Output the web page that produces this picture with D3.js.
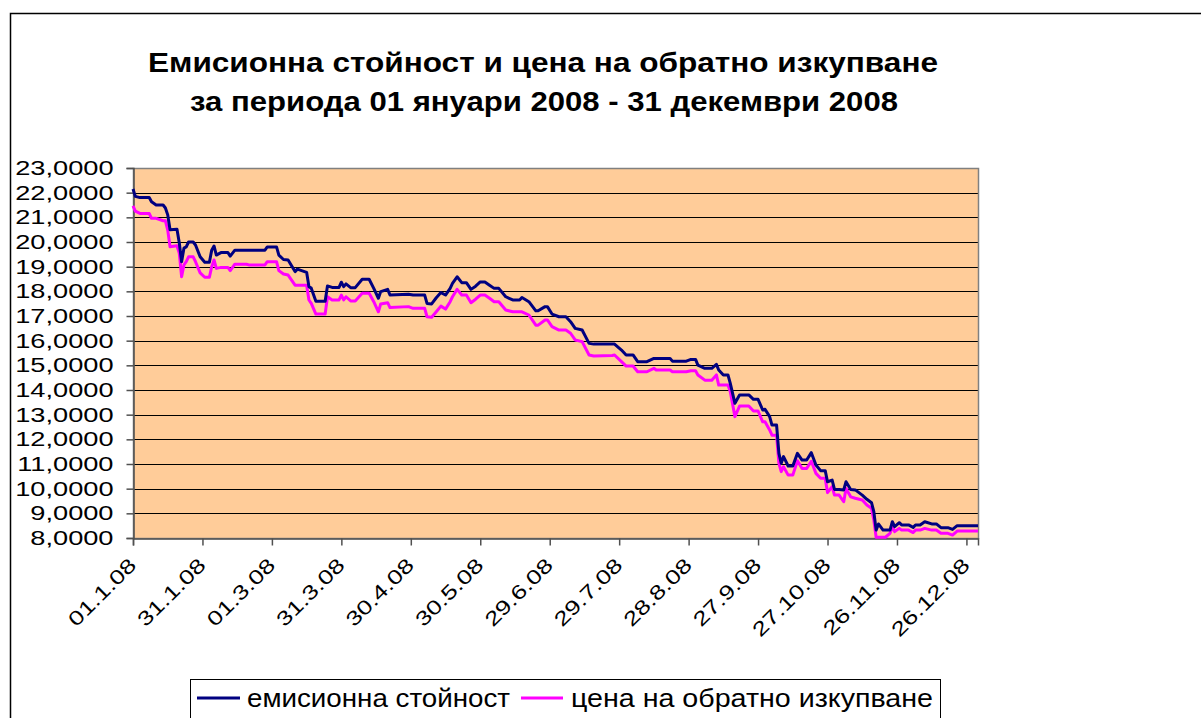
<!DOCTYPE html>
<html>
<head>
<meta charset="utf-8">
<script src="https://cdn.jsdelivr.net/npm/d3@7"></script>
<style>
  body { margin: 0; background: #fff; }
  svg text { font-family: "Liberation Sans", Arial, sans-serif; fill: #000; }
</style>
</head>
<body>
<div id="chart"></div>
<script>
// emission value vs redemption price, 2008

var dates = ["01.01","02.01","04.01","08.01","09.01","11.01","14.01","15.01","16.01","17.01",
  "20.01","21.01","22.01","23.01","24.01","25.01","27.01","28.01","30.01","01.02",
  "03.02","04.02","05.02","06.02","08.02","11.02","12.02","14.02","19.02","20.02",
  "27.02","28.02","03.03","04.03","06.03","08.03","11.03","12.03","16.03","17.03",
  "18.03","20.03","24.03","25.03","27.03","30.03","31.03","01.04","02.04","04.04",
  "06.04","09.04","12.04","14.04","16.04","17.04","20.04","21.04","29.04","01.05",
  "06.05","07.05","09.05","11.05","13.05","15.05","17.05","18.05","20.05","22.05",
  "24.05","26.05","28.05","30.05","01.06","03.06","05.06","07.06","10.06","13.06",
  "16.06","17.06","20.06","23.06","24.06","27.06","28.06","30.06","03.07","06.07",
  "08.07","10.07","13.07","16.07","18.07","26.07","27.07","30.07","01.08","04.08",
  "06.08","10.08","13.08","14.08","20.08","21.08","27.08","29.08","31.08","01.09",
  "04.09","07.09","09.09","10.09","12.09","14.09","15.09","17.09","19.09","23.09",
  "25.09","27.09","29.09","30.09","02.10","03.10","05.10","06.10","07.10","08.10",
  "10.10","12.10","14.10","16.10","18.10","20.10","22.10","24.10","26.10","27.10",
  "29.10","30.10","01.11","03.11","04.11","06.11","08.11","11.11","13.11","15.11",
  "16.11","17.11","18.11","20.11","21.11","23.11","24.11","25.11","27.11","28.11",
  "01.12","03.12","04.12","06.12","08.12","11.12","13.12","15.12","18.12","20.12",
  "22.12","31.12"];

var emission = [22.15,21.85,21.80,21.80,21.63,21.50,21.50,21.38,21.10,20.50,
  20.52,19.96,19.20,19.75,19.80,20.00,20.00,19.88,19.40,19.18,
  19.18,19.67,19.84,19.47,19.57,19.57,19.43,19.67,19.67,19.67,
  19.67,19.80,19.80,19.47,19.29,19.27,18.80,18.90,18.77,18.19,
  18.13,17.60,17.60,18.22,18.16,18.16,18.37,18.19,18.30,18.15,
  18.15,18.49,18.49,18.12,17.72,17.99,18.08,17.85,17.88,17.85,
  17.85,17.51,17.49,17.74,17.95,17.85,18.12,18.32,18.59,18.35,
  18.35,18.08,18.21,18.38,18.38,18.25,18.12,18.12,17.78,17.65,
  17.65,17.75,17.58,17.21,17.21,17.38,17.38,17.08,16.97,16.97,
  16.77,16.50,16.43,15.89,15.86,15.86,15.86,15.62,15.42,15.42,
  15.15,15.15,15.28,15.28,15.28,15.17,15.17,15.24,15.24,15.01,
  14.88,14.88,15.04,14.81,14.61,14.61,14.27,13.46,13.80,13.80,
  13.62,13.62,13.19,13.22,12.92,12.58,12.58,11.43,11.03,11.30,
  10.92,10.92,11.43,11.16,11.16,11.46,10.96,10.73,10.73,10.28,
  10.35,9.97,9.97,9.95,10.28,9.97,9.95,9.74,9.57,9.43,
  9.07,8.32,8.57,8.32,8.32,8.32,8.66,8.46,8.62,8.53,
  8.53,8.43,8.53,8.53,8.66,8.57,8.57,8.42,8.42,8.35,
  8.50,8.50];

var redemption = [21.46,21.25,21.16,21.16,20.96,20.96,20.86,20.86,20.48,19.81,
  19.85,19.54,18.59,19.07,19.20,19.40,19.40,19.20,18.75,18.57,
  18.57,19.00,19.27,18.93,18.97,18.97,18.84,19.10,19.10,19.07,
  19.07,19.20,19.20,18.84,18.70,18.66,18.25,18.25,18.25,17.65,
  17.51,17.08,17.08,17.78,17.65,17.65,17.85,17.65,17.78,17.61,
  17.61,17.92,17.92,17.58,17.17,17.49,17.54,17.34,17.38,17.31,
  17.31,16.97,16.95,17.17,17.40,17.28,17.58,17.78,18.08,17.85,
  17.85,17.54,17.68,17.85,17.85,17.72,17.58,17.58,17.24,17.17,
  17.17,17.17,17.04,16.63,16.63,16.84,16.84,16.57,16.43,16.43,
  16.30,16.03,15.96,15.42,15.38,15.40,15.42,15.15,14.97,14.97,
  14.74,14.74,14.88,14.81,14.81,14.74,14.74,14.78,14.78,14.61,
  14.40,14.40,14.61,14.20,14.20,14.20,13.93,12.92,13.35,13.35,
  13.15,13.15,12.71,12.71,12.38,12.17,12.17,11.03,10.69,10.89,
  10.55,10.55,11.13,10.82,10.82,11.11,10.62,10.42,10.42,9.84,
  10.08,9.74,9.74,9.47,10.01,9.67,9.61,9.54,9.34,9.20,
  8.73,8.03,8.03,8.03,8.03,8.19,8.46,8.26,8.39,8.32,
  8.32,8.22,8.32,8.32,8.39,8.32,8.32,8.19,8.19,8.12,
  8.28,8.28];

var xTickLabels = ["01.1.08","31.1.08","01.3.08","31.3.08","30.4.08","30.5.08",
  "29.6.08","29.7.08","28.8.08","27.9.08","27.10.08","26.11.08","26.12.08"];
var yTicks = [8,9,10,11,12,13,14,15,16,17,18,19,20,21,22,23];

var seriesNames = ["емисионна стойност", "цена на обратно изкупване"];
var titleLines = ["Емисионна стойност и цена на обратно изкупване",
  "за периода 01 януари 2008 - 31 декември 2008"];

var svgWidth = 1201;
var svgHeight = 718;

var plot = { left: 133, right: 978, top: 168, bottom: 538 };

var svg = d3.select("#chart")
  .append("svg")
  .attr("width", svgWidth)
  .attr("height", svgHeight);

// outer chart frame (right and bottom edges are off-screen)
svg.append("path")
  .attr("d", "M10.5,718 L10.5,13.5 L1201,13.5")
  .attr("fill", "none")
  .attr("stroke", "#000")
  .attr("stroke-width", 1.5);

var parseDay = d3.utcParse("%d.%m.%Y");
var parseTick = d3.utcParse("%d.%m.%y");

var data = dates.map(function(d, i) {
  return { date: parseDay(d + ".2008"), emission: emission[i], redemption: redemption[i] };
});

var xScale = d3.scaleUtc()
  .domain([parseDay("01.01.2008"), parseDay("31.12.2008")])
  .range([plot.left, plot.right]);

var yScale = d3.scaleLinear()
  .domain([8, 23])
  .range([plot.bottom, plot.top]);

var tickDates = xTickLabels.map(function(t) { return parseTick(t); });

// plot background
svg.append("rect")
  .attr("x", plot.left)
  .attr("y", plot.top)
  .attr("width", plot.right - plot.left)
  .attr("height", plot.bottom - plot.top)
  .attr("fill", "#FFCC99");

// horizontal gridlines
svg.append("g")
  .selectAll("line")
  .data(yTicks.filter(function(v) { return v > 8 && v < 23; }))
  .enter()
  .append("line")
  .attr("x1", plot.left)
  .attr("x2", plot.right)
  .attr("y1", function(d) { return Math.round(yScale(d)) + 0.5; })
  .attr("y2", function(d) { return Math.round(yScale(d)) + 0.5; })
  .attr("stroke", "#000")
  .attr("stroke-width", 1);

// plot border
svg.append("rect")
  .attr("x", plot.left + 0.5)
  .attr("y", plot.top + 0.5)
  .attr("width", plot.right - plot.left)
  .attr("height", plot.bottom - plot.top)
  .attr("fill", "none")
  .attr("stroke", "#808080")
  .attr("stroke-width", 1.5);

// y axis
var leftAxis = d3.axisLeft(yScale)
  .tickValues(yTicks)
  .tickSize(7)
  .tickFormat(function(d) { return d3.format(".4f")(d).replace(".", ","); });

var yAxisGroup = svg.append("g")
  .attr("transform", "translate(" + (plot.left + 0.5) + ",0)")
  .call(leftAxis);
yAxisGroup.select(".domain").attr("stroke", "#505050").attr("stroke-width", 1.5);
yAxisGroup.selectAll(".tick line").attr("stroke", "#505050").attr("stroke-width", 1.5);
yAxisGroup.selectAll(".tick text")
  .attr("font-size", "20px")
  .attr("font-family", "Liberation Sans, Arial, sans-serif")
  .attr("fill", "#000")
  .attr("x", 0)
  .attr("transform", "translate(-20,0) scale(1.36,1)");

// x axis
var bottomAxis = d3.axisBottom(xScale)
  .tickValues(tickDates)
  .tickSize(7)
  .tickFormat(function(d, i) { return xTickLabels[i]; });

var xAxisGroup = svg.append("g")
  .attr("transform", "translate(0," + (plot.bottom + 0.5) + ")")
  .call(bottomAxis);
xAxisGroup.select(".domain").attr("stroke", "#505050").attr("stroke-width", 1.5);
xAxisGroup.selectAll(".tick line").attr("stroke", "#505050").attr("stroke-width", 1.5);
xAxisGroup.selectAll(".tick text")
  .attr("font-size", "20px")
  .attr("font-family", "Liberation Sans, Arial, sans-serif")
  .attr("fill", "#000")
  .attr("text-anchor", "end")
  .attr("dy", null)
  .attr("y", 0)
  .attr("transform", "translate(4,28) rotate(-45) scale(1.3,1)");

// series lines
var lineEmission = d3.line()
  .x(function(d) { return xScale(d.date); })
  .y(function(d) { return yScale(d.emission); });

var lineRedemption = d3.line()
  .x(function(d) { return xScale(d.date); })
  .y(function(d) { return yScale(d.redemption); });

svg.append("path")
  .datum(data)
  .attr("d", lineRedemption)
  .attr("fill", "none")
  .attr("stroke", "#FF00FF")
  .attr("stroke-width", 3)
  .attr("stroke-linejoin", "round");

svg.append("path")
  .datum(data)
  .attr("d", lineEmission)
  .attr("fill", "none")
  .attr("stroke", "#000080")
  .attr("stroke-width", 3)
  .attr("stroke-linejoin", "round");

// title
svg.append("text")
  .attr("x", 148)
  .attr("y", 72)
  .attr("font-size", "27px")
  .attr("font-weight", "bold")
  .attr("textLength", 790)
  .attr("lengthAdjust", "spacingAndGlyphs")
  .text(titleLines[0]);

svg.append("text")
  .attr("x", 190)
  .attr("y", 111)
  .attr("font-size", "27px")
  .attr("font-weight", "bold")
  .attr("textLength", 708)
  .attr("lengthAdjust", "spacingAndGlyphs")
  .text(titleLines[1]);

// legend
var legend = svg.append("g");
legend.append("rect")
  .attr("x", 190.5)
  .attr("y", 679.5)
  .attr("width", 750)
  .attr("height", 60)
  .attr("fill", "#fff")
  .attr("stroke", "#000")
  .attr("stroke-width", 1);

var legendItems = [
  { name: seriesNames[0], color: "#000080", x1: 197, x2: 240, tx: 247, tw: 263 },
  { name: seriesNames[1], color: "#FF00FF", x1: 521, x2: 563, tx: 571, tw: 362 }
];

legend.selectAll("line")
  .data(legendItems)
  .enter()
  .append("line")
  .attr("x1", function(d) { return d.x1; })
  .attr("x2", function(d) { return d.x2; })
  .attr("y1", 698)
  .attr("y2", 698)
  .attr("stroke", function(d) { return d.color; })
  .attr("stroke-width", 3);

legend.selectAll("text")
  .data(legendItems)
  .enter()
  .append("text")
  .attr("x", function(d) { return d.tx; })
  .attr("y", 707)
  .attr("font-size", "25px")
  .attr("textLength", function(d) { return d.tw; })
  .attr("lengthAdjust", "spacingAndGlyphs")
  .text(function(d) { return d.name; });
</script>
</body>
</html>
